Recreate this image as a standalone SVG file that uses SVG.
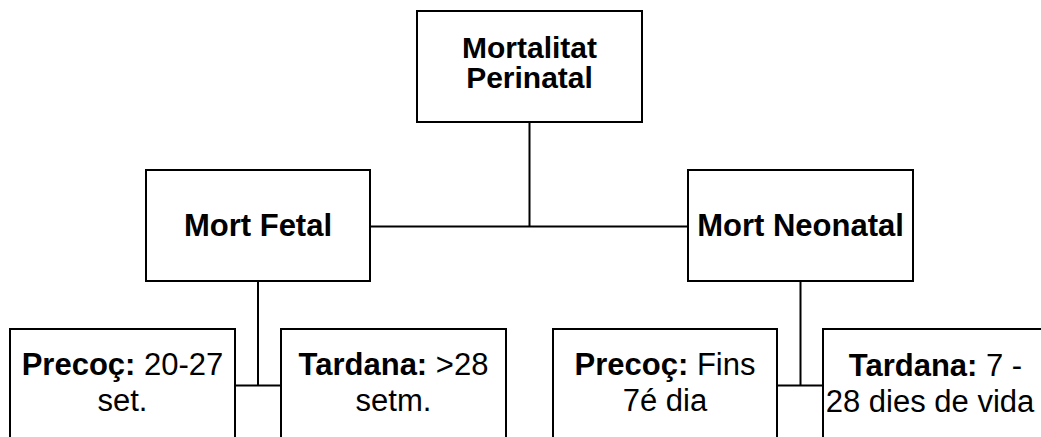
<svg xmlns="http://www.w3.org/2000/svg" width="1041" height="437" viewBox="0 0 1041 437">
<style>
.box{fill:#fff;stroke:#000;stroke-width:2}
.ln{fill:none;stroke:#000;stroke-width:2}
text{font-family:"Liberation Sans",Arial,sans-serif;font-size:31px;fill:#000;text-anchor:middle}
.b{font-weight:bold}
.t{font-size:30px}
</style>
<rect width="1041" height="437" fill="#fff"/>
<g id="connectors">
<path class="ln" d="M529.5 122V226.5M370 226.5H688"/>
<path class="ln" d="M258 281V385.5M235 385.5H281"/>
<path class="ln" d="M800.5 281V385.5M777 385.5H823"/>
</g>
<g id="n-top">
<rect class="box" x="417" y="11" width="225" height="111"/>
<text class="b t" x="529.5" y="58">Mortalitat</text>
<text class="b t" x="529.5" y="88">Perinatal</text>
</g>
<g id="n-fetal">
<rect class="box" x="146" y="170" width="224" height="111"/>
<text class="b" x="258" y="236">Mort Fetal</text>
</g>
<g id="n-neonatal">
<rect class="box" x="688" y="170" width="225" height="111"/>
<text class="b" x="800.5" y="235.5">Mort Neonatal</text>
</g>
<g id="n-fetal-precoc">
<rect class="box" x="10" y="329" width="225" height="111"/>
<text x="122.5" y="375"><tspan class="b">Precoç:</tspan> 20-27</text>
<text x="122.5" y="410.5">set.</text>
</g>
<g id="n-fetal-tardana">
<rect class="box" x="281" y="329" width="225" height="111"/>
<text x="393.5" y="375"><tspan class="b">Tardana:</tspan> &gt;28</text>
<text x="393.5" y="410.5">setm.</text>
</g>
<g id="n-neo-precoc">
<rect class="box" x="553" y="329" width="224" height="111"/>
<text x="665" y="375"><tspan class="b">Precoç:</tspan> Fins</text>
<text x="665" y="410.5">7é dia</text>
</g>
<g id="n-neo-tardana">
<rect class="box" x="823" y="329" width="225" height="111"/>
<text x="935.5" y="376"><tspan class="b">Tardana:</tspan> 7 -</text>
<text x="930" y="411.5">28 dies de vida</text>
</g>
</svg>
